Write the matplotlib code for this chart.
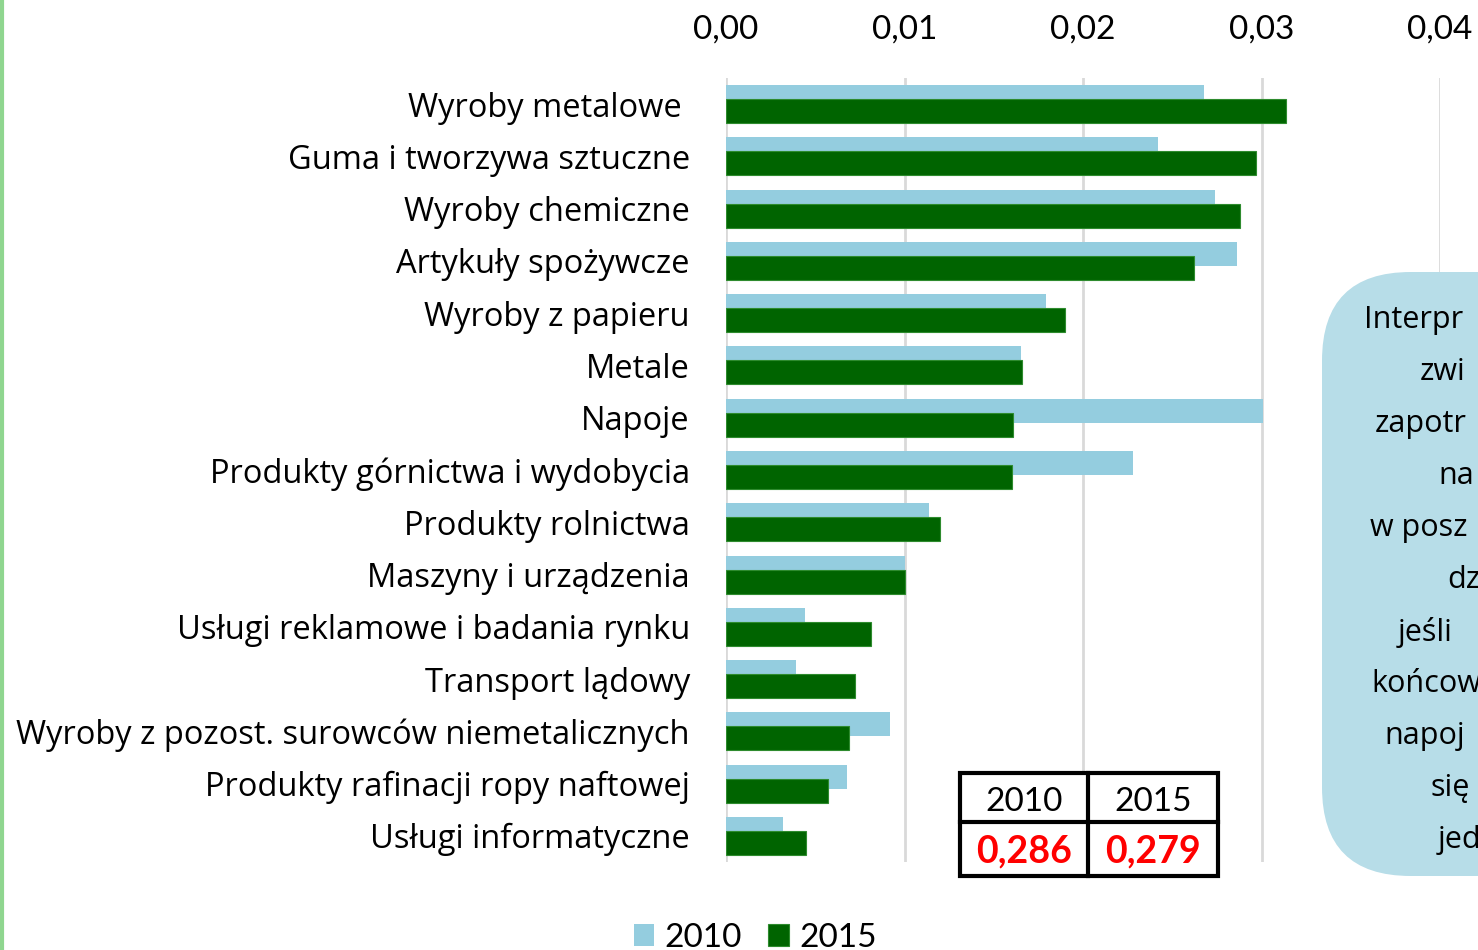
import matplotlib
matplotlib.use("Agg")
import matplotlib.pyplot as plt
from matplotlib.patches import Rectangle, FancyBboxPatch
from matplotlib.lines import Line2D
import numpy as np

categories = [
    "Wyroby metalowe ",
    "Guma i tworzywa sztuczne",
    "Wyroby chemiczne",
    "Artykuły spożywcze",
    "Wyroby z papieru",
    "Metale",
    "Napoje",
    "Produkty górnictwa i wydobycia",
    "Produkty rolnictwa",
    "Maszyny i urządzenia",
    "Usługi reklamowe i badania rynku",
    "Transport lądowy",
    "Wyroby z pozost. surowców niemetalicznych",
    "Produkty rafinacji ropy naftowej",
    "Usługi informatyczne",
]
values_2010 = [0.0268, 0.0242, 0.0274, 0.0286, 0.0179, 0.0165, 0.0301, 0.0228,
               0.0114, 0.0100, 0.0044, 0.0039, 0.0092, 0.0068, 0.0032]
values_2015 = [0.0314, 0.0297, 0.0288, 0.0262, 0.0190, 0.0166, 0.0161, 0.0160,
               0.0120, 0.0100, 0.0081, 0.0072, 0.0069, 0.0057, 0.0045]
series_labels = ["2010", "2015"]
xticks = [0.00, 0.01, 0.02, 0.03, 0.04]
xtick_labels = ["0,00", "0,01", "0,02", "0,03", "0,04"]
table_years = ["2010", "2015"]
table_values = ["0,286", "0,279"]
# only the part of the info box text that is visible in the (cropped) reference
box_lines = ["Interpr", "zwi", "zapotr", "na", "w posz", "dz", "jeśli", "końcow",
             "napoj", "się", "jed"]

W, H = 1478, 950
fig = plt.figure(figsize=(W / 100, H / 100), dpi=100)
fig.patch.set_facecolor("white")

def fx(px):
    return px / W

def fy(py):
    return 1 - py / H

ax_left, ax_right, ax_top, ax_bot = 726, 1440, 78, 862
ax = fig.add_axes([fx(ax_left), fy(ax_bot), fx(ax_right) - fx(ax_left), (ax_bot - ax_top) / H])

c2010 = "#94cddf"
c2015 = "#006400"
y = np.arange(len(categories))
off = 0.134
h = 0.46
ax.barh(y - off, values_2010, height=h, color=c2010, label=series_labels[0], zorder=2)
ax.barh(y + off, values_2015, height=h, color=c2015, edgecolor="#2e8b2e", linewidth=0.8,
        label=series_labels[1], zorder=3)

ax.set_xlim(0, 0.04)
ax.set_ylim(len(categories) - 0.5, -0.5)
ax.set_xticks(xticks)
ax.set_xticklabels(xtick_labels, fontfamily="Lato", fontsize=24)
ax.xaxis.tick_top()
ax.tick_params(axis="x", length=0, pad=24)
ax.set_yticks(y)
ax.set_yticklabels(categories, fontfamily="Open Sans", fontsize=23.5)
ax.tick_params(axis="y", length=0, pad=26)
for s in ax.spines.values():
    s.set_visible(False)
ax.grid(axis="x", color="#d9d9d9", linewidth=2, zorder=0)
ax.set_axisbelow(True)
ax.patch.set_alpha(0)

# left green border line
fig.add_artist(Line2D([fx(1.5), fx(1.5)], [0, 1], color="#8fd68f", linewidth=3))

# rounded info box (partially cut off on the right)
box = FancyBboxPatch((fx(1322), fy(876)), fx(400), (876 - 272) / H,
                     boxstyle="round,pad=0,rounding_size=0.06",
                     transform=fig.transFigure, facecolor="#b7dde8", edgecolor="none",
                     mutation_aspect=W / H, zorder=5)
fig.add_artist(box)
box_x = [1364, 1420, 1375, 1438, 1370, 1447, 1398, 1371, 1384, 1430, 1438]
for i, (line, bx) in enumerate(zip(box_lines, box_x)):
    fig.text(fx(bx), fy(320 + 52 * i), line, fontfamily="Open Sans", fontsize=22,
             va="center", ha="left", color="black", zorder=6)

# table
tl, tr, tt, tb, tmx, tmy = 960, 1218, 773, 876, 1088, 822
fig.add_artist(Rectangle((fx(tl), fy(tb)), fx(tr - tl), (tb - tt) / H,
                         transform=fig.transFigure, facecolor="white",
                         edgecolor="black", linewidth=3, zorder=7))
fig.add_artist(Line2D([fx(tmx), fx(tmx)], [fy(tt), fy(tb)], color="black", linewidth=3, zorder=8))
fig.add_artist(Line2D([fx(tl), fx(tr)], [fy(tmy), fy(tmy)], color="black", linewidth=3, zorder=8))
for (cx, yr, val) in zip([1024, 1153], table_years, table_values):
    fig.text(fx(cx), fy(802), yr, fontfamily="Lato", fontsize=24, ha="center",
             va="center", color="black", zorder=9)
    fig.text(fx(cx), fy(851), val, fontfamily="Lato", fontsize=27, fontweight="bold",
             ha="center", va="center", color="#ff0000", zorder=9)

# legend at bottom
handles, labels = ax.get_legend_handles_labels()
leg = fig.legend(handles, labels, loc="center", bbox_to_anchor=(fx(755), fy(938)),
                 ncol=2, frameon=False, prop={"family": "Lato", "size": 24},
                 handlelength=0.62, handleheight=0.62, handletextpad=0.3,
                 columnspacing=0.8)

fig.savefig("out.png", dpi=100, facecolor="white")
